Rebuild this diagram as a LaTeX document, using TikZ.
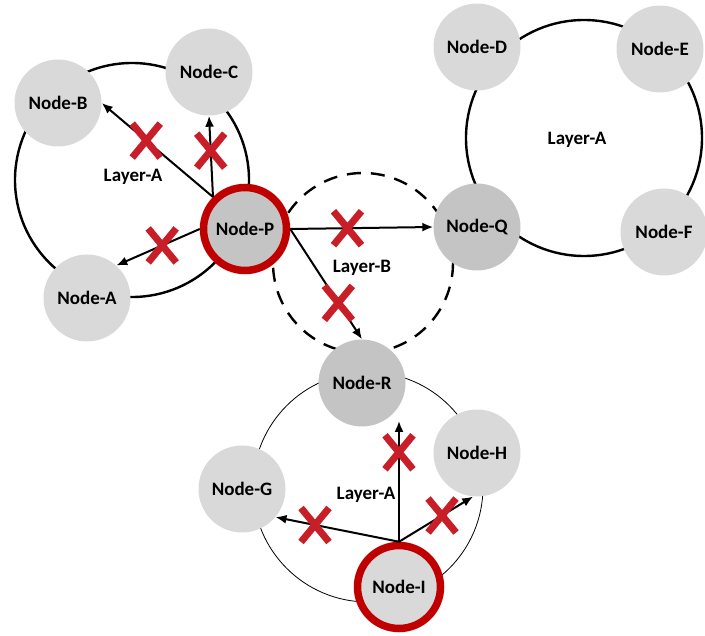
\documentclass[tikz,border=0pt]{standalone}
\usepackage{fontspec}
\setmainfont{Carlito}
\usetikzlibrary{arrows.meta,positioning}
\definecolor{ringred}{RGB}{192,0,0}
\definecolor{xred}{RGB}{200,30,40}
\definecolor{nodegray}{RGB}{217,217,217}
\definecolor{hubgray}{RGB}{196,196,196}
\tikzset{
  net/node/.style={circle, fill=nodegray, minimum size=87pt, inner sep=0pt, font=\bfseries\fontsize{19}{21}\selectfont},
  net/hub/.style={net/node, fill=hubgray},
  net/source/.style={net/node, draw=ringred, line width=7.5pt, minimum size=83pt},
  net/ring/.style={line width=2.4pt},
  net/thinring/.style={line width=0.8pt},
  net/dashring/.style={line width=2.4pt, dash pattern=on 14pt off 10pt},
  net/label/.style={font=\bfseries\fontsize{19}{21}\selectfont},
  net/link/.style={line width=2pt, -{Latex[length=11pt,width=9pt]}},
  cutmark/.pic={\draw[xred, line width=7pt] (-14,-17) -- (14,17) (-14,17) -- (14,-17);}
}

\begin{document}
\begin{tikzpicture}[x=1pt, y=-1pt]
  \useasboundingbox (0,0) rectangle (705,636);

  % layers
  \draw[net/ring] (132,180) circle (117);
  \draw[net/ring] (584,138) circle (118);
  \draw[net/dashring] (363,263) circle (90);
  \draw[net/thinring] (368,487) circle (115);

  % nodes
  \node[net/node] (B) at (58,103) {Node-B};
  \node[net/node] (C) at (209,72) {Node-C};
  \node[net/node] (A) at (87,298) {Node-A};
  \node[net/source, fill=hubgray] (P) at (245,229) {Node-P};
  \node[net/node] (D) at (477,47) {Node-D};
  \node[net/node] (E) at (660,49) {Node-E};
  \node[net/node] (F) at (664,232) {Node-F};
  \node[net/hub] (Q) at (477,227) {Node-Q};
  \node[net/hub] (R) at (362,383) {Node-R};
  \node[net/node] (G) at (242,489) {Node-G};
  \node[net/node] (H) at (477,453) {Node-H};
  \node[net/source] (I) at (399,587) {Node-I};

  \node[net/label] (la1) at (133,177) {Layer-A};
  \node[net/label] (lb) at (362,268) {Layer-B};
  \node[net/label] (la2) at (577,140) {Layer-A};
  \node[net/label] (la3) at (366,495) {Layer-A};

  % links
  \coordinate (Rin) at (I.north |- R.-60);
  \draw[net/link] (P.135) -- coordinate[pos=.6] (xPB) (B.east);
  \draw[net/link] (P.135) -- coordinate[pos=.57] (xPC) (C.south);
  \draw[net/link] (P.west) -- coordinate[pos=.45] (xPA) (A.48);
  \draw[net/link] (P.east) -- coordinate[pos=.4] (xPQ) (Q.west);
  \draw[net/link] (P.east) -- coordinate[pos=.67] (xPR) (R.north);
  \draw[net/link] (I.north) -- coordinate[pos=.68] (xIG) (G.-40);
  \draw[net/link] (I.north) -- coordinate[pos=.74] (xIR) (Rin);
  \draw[net/link] (I.north) -- coordinate[pos=.58] (xIH) (H.-95);

  % blocked links
  \foreach \c in {xPB,xPC,xPA,xPQ,xPR,xIG,xIR,xIH}
    \pic at (\c) {cutmark};
\end{tikzpicture}
\end{document}
